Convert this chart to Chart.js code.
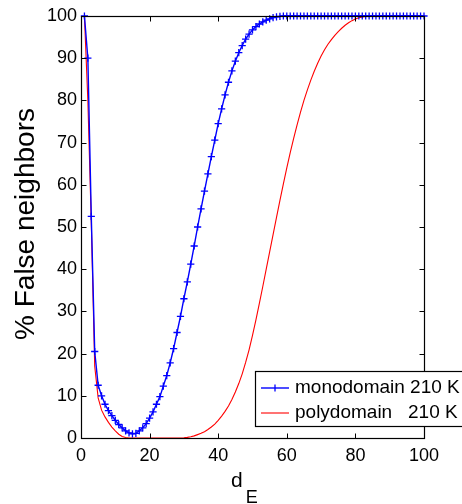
<!DOCTYPE html>
<html>
<head>
<meta charset="utf-8">
<script src="https://cdn.jsdelivr.net/npm/chart.js@4/dist/chart.umd.min.js"></script>
<style>
html,body{margin:0;padding:0;background:#fff;}
#wrap{position:relative;width:462px;height:504px;}
</style>
</head>
<body>
<div id="wrap"><canvas id="c" width="462" height="504"></canvas></div>
<script>
// Embedding dimension d_E
const dE = [1,2,3,4,5,6,7,8,9,10,11,12,13,14,15,16,17,18,19,20,
  21,22,23,24,25,26,27,28,29,30,31,32,33,34,35,36,37,38,39,40,
  41,42,43,44,45,46,47,48,49,50,51,52,53,54,55,56,57,58,59,60,
  61,62,63,64,65,66,67,68,69,70,71,72,73,74,75,76,77,78,79,80,
  81,82,83,84,85,86,87,88,89,90,91,92,93,94,95,96,97,98,99,100];

// % false neighbors, monodomain 210 K
const monodomain = [100,90,52.5,20.5,12.5,10,8,6.5,5.3,4.2,
  3.2,2.4,1.7,1.2,1.0,1.1,1.7,2.4,3.4,4.7,
  6.2,8,9.8,12.3,14.8,17.8,21.2,25,28.8,33,
  37,41.2,45.5,50,54.3,58.5,62.6,66.7,70.6,74.5,
  78,81.3,84.3,87,89.3,91.3,93,94.5,95.7,96.7,
  97.5,98.1,98.6,99,99.3,99.6,99.8,99.9,100,100,
  100,100,100,100,100,100,100,100,100,100,
  100,100,100,100,100,100,100,100,100,100,
  100,100,100,100,100,100,100,100,100,100,
  100,100,100,100,100,100,100,100,100,100];

// % false neighbors, polydomain 210 K
const polydomain = [100,80,51,17,9.5,6.6,5,3.7,2.6,1.7,
  0.9,0.35,0.1,0,0,0,0,0,0,0,
  0,0,0,0,0,0,0,0,0,0.05,
  0.15,0.3,0.5,0.8,1.1,1.5,2.0,2.6,3.3,4.2,
  5.2,6.3,7.6,9.1,10.9,12.9,15.2,17.9,20.9,24.3,
  28,31.9,35.9,40,44.1,48.2,52.3,56.3,60.2,64,
  67.6,71,74.2,77.2,80,82.5,84.8,86.9,88.8,90.5,
  92,93.3,94.4,95.4,96.3,97.1,97.8,98.4,98.9,99.3,
  99.6,99.8,99.9,100,100,100,100,100,100,100,
  100,100,100,100,100,100,100,100,100,100];

const seriesLabels = ['monodomain 210 K', 'polydomain   210 K'];
const xTicks = [0,20,40,60,80,100];
const yTicks = [0,10,20,30,40,50,60,70,80,90,100];
const yTitle = '% False neighbors';
const xTitleMain = 'd';
const xTitleSub = 'E';

const FONT = '"Liberation Sans", Arial, sans-serif';

const pts = (ys) => dE.map((x, i) => ({x: x, y: ys[i]}));

const decor = {
  id: 'decor',
  afterDraw(chart) {
    const ctx = chart.ctx;
    const a = chart.chartArea;
    const xs = chart.scales.x, ys = chart.scales.y;
    ctx.save();
    // box
    ctx.strokeStyle = '#000';
    ctx.lineWidth = 1.2;
    const L = Math.round(a.left) + 0.5, R = Math.round(a.right) + 0.5;
    const T = Math.round(a.top) + 0.5, B = Math.round(a.bottom) + 0.5;
    ctx.strokeRect(L, T, R - L, B - T);
    // inward ticks
    ctx.lineWidth = 1;
    ctx.beginPath();
    xTicks.forEach(v => {
      const px = Math.round(xs.getPixelForValue(v)) + 0.5;
      ctx.moveTo(px, B); ctx.lineTo(px, B - 5);
      ctx.moveTo(px, T); ctx.lineTo(px, T + 5);
    });
    yTicks.forEach(v => {
      const py = Math.round(ys.getPixelForValue(v)) + 0.5;
      ctx.moveTo(L, py); ctx.lineTo(L + 5, py);
      ctx.moveTo(R, py); ctx.lineTo(R - 5, py);
    });
    ctx.stroke();

    // y title
    ctx.fillStyle = '#000';
    ctx.save();
    ctx.translate(26, 224);
    ctx.rotate(-Math.PI / 2);
    ctx.font = '28px ' + FONT;
    ctx.textAlign = 'center';
    ctx.textBaseline = 'middle';
    ctx.fillText(yTitle, 0, 0);
    ctx.restore();

    // x title with subscript
    ctx.textAlign = 'left';
    ctx.textBaseline = 'alphabetic';
    ctx.font = '21px ' + FONT;
    ctx.fillText(xTitleMain, 231, 487);
    const dw = ctx.measureText(xTitleMain).width;
    ctx.font = '18px ' + FONT;
    ctx.fillText(xTitleSub, 231 + dw + 3, 503);

    // legend
    const lx = 255.5, ly = 371.5, lh = 55;
    ctx.fillStyle = '#fff';
    ctx.fillRect(lx, ly, 470 - lx, lh);
    ctx.strokeStyle = '#000';
    ctx.lineWidth = 1.2;
    ctx.strokeRect(lx, ly, 470 - lx, lh);
    const rows = [388, 413];
    chart.data.datasets.forEach((ds, i) => {
      const y = rows[i];
      ctx.strokeStyle = ds.borderColor;
      ctx.lineWidth = ds.borderWidth;
      ctx.beginPath();
      ctx.moveTo(261, y); ctx.lineTo(289, y);
      ctx.stroke();
      if (ds.pointStyle === 'cross') {
        ctx.lineWidth = ds.pointBorderWidth;
        ctx.beginPath();
        ctx.moveTo(275, y - ds.pointRadius); ctx.lineTo(275, y + ds.pointRadius);
        ctx.stroke();
      }
      ctx.fillStyle = '#000';
      ctx.font = '19px ' + FONT;
      ctx.textBaseline = 'middle';
      ctx.fillText(ds.label, 295, y);
    });
    ctx.restore();
  }
};

new Chart(document.getElementById('c'), {
  type: 'line',
  data: {
    datasets: [
      {
        label: seriesLabels[0],
        data: pts(monodomain),
        borderColor: '#0000ff',
        backgroundColor: '#0000ff',
        borderWidth: 1.4,
        pointStyle: 'cross',
        pointRadius: 3.6,
        pointBorderWidth: 1.3,
        pointBorderColor: '#0000ff',
        tension: 0,
        clip: 10
      },
      {
        label: seriesLabels[1],
        data: pts(polydomain),
        borderColor: '#ff0000',
        backgroundColor: '#ff0000',
        borderWidth: 1.1,
        pointRadius: 0,
        tension: 0,
        clip: 5
      }
    ]
  },
  options: {
    responsive: false,
    animation: false,
    events: [],
    layout: { padding: { top: 16, right: 38, left: 0, bottom: 0 } },
    plugins: { legend: { display: false }, tooltip: { enabled: false } },
    scales: {
      x: {
        type: 'linear',
        min: 0, max: 100,
        afterBuildTicks(s) { s.ticks = xTicks.map(v => ({value: v})); },
        afterFit(s) { s.height = 66; },
        grid: { display: false, drawTicks: false },
        border: { display: false },
        ticks: { color: '#000', font: { family: FONT, size: 18 }, padding: 7, maxRotation: 0, autoSkip: false }
      },
      y: {
        type: 'linear',
        min: 0, max: 100,
        afterBuildTicks(s) { s.ticks = yTicks.map(v => ({value: v})); },
        afterFit(s) { s.width = 81; },
        grid: { display: false, drawTicks: false },
        border: { display: false },
        ticks: { color: '#000', font: { family: FONT, size: 18 }, padding: 4, autoSkip: false }
      }
    }
  },
  plugins: [decor]
});
</script>
</body>
</html>
